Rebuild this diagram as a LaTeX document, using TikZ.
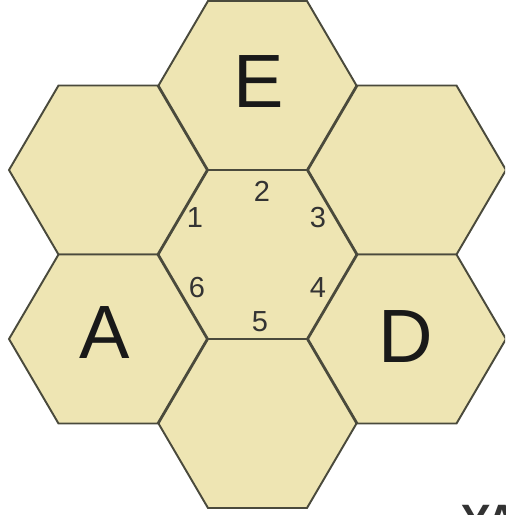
\documentclass[tikz,border=0pt]{standalone}
\usepackage{fontspec}
\setmainfont{Liberation Sans}
\usepackage{xcolor}
\usepackage{tikz}
\usetikzlibrary{positioning}
\definecolor{hexfill}{HTML}{EEE5B3}
\definecolor{hexline}{HTML}{4A4A3C}
\definecolor{numtext}{HTML}{333333}

\begin{document}
\begin{tikzpicture}[x=0.02cm, y=-0.02cm,
    hexcell/.style={fill=hexfill, draw=hexline, line width=1.1pt, line join=miter},
    biglabel/.style={font=\fontsize{43}{43}\selectfont, text=black!90},
    sidelabel/.style={font=\fontsize{16.5}{16.5}\selectfont, text=numtext}]
    \useasboundingbox (0,0) rectangle (505,515);
    \clip (0,0) rectangle (505,515);

    % Cells: centre and its six neighbours
    \foreach \cx/\cy in {257.5/254.5, 257.5/85.5, 108/170, 407/170, 108/339, 407/339, 257.5/423.5}
      \draw[hexcell, shift={(\cx,\cy)}] (99,0) -- (49.5,84.5) -- (-49.5,84.5) -- (-99,0)
        -- (-49.5,-84.5) -- (49.5,-84.5) -- cycle;

    % Cell letters
    \node[biglabel] (cellE) at (259,82) {E};
    \node[biglabel] (cellA) at (105,333) {A};
    \node[biglabel] (cellD) at (406,337) {D};

    % Side numbers of the centre cell
    \node[sidelabel] (side1) at (195,218) {1};
    \node[sidelabel] (side2) at (262,191) {2};
    \node[sidelabel] (side3) at (318,218) {3};
    \node[sidelabel] (side4) at (318,288) {4};
    \node[sidelabel] (side5) at (260,322) {5};
    \node[sidelabel] (side6) at (197,288) {6};

    % Cut-off caption
    \node[anchor=north west, inner sep=0pt, font=\fontsize{25}{25}\selectfont\bfseries, text=numtext] (caption) at (461,505) {YA};
\end{tikzpicture}
\end{document}
